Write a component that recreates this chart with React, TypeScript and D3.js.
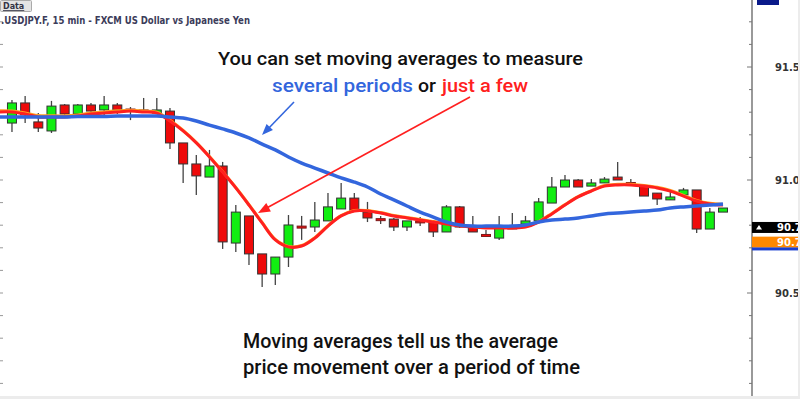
import React from 'react';
import * as d3 from 'd3';

// Candles (USDJPY 15 min), oldest to newest
const candleOpen = [91.252, 91.341, 91.257, 91.217, 91.332, 91.292, 91.332, 91.310, 91.332, 91.314,
  91.305, 91.296, 91.305, 91.164, 91.071, 91.013, 91.062, 90.721, 90.841, 90.673,
  90.584, 90.659, 90.796, 90.792, 90.819, 90.872, 90.920, 90.858, 90.829, 90.827,
  90.792, 90.819, 90.814, 90.770, 90.881, 90.796, 90.759, 90.743, 90.790, 90.805,
  90.819, 90.898, 90.969, 91.000, 90.973, 90.987, 91.013, 90.989, 90.973, 90.942,
  90.912, 90.934, 90.956, 90.783, 90.858];
const candleHigh = [91.354, 91.372, 91.296, 91.350, 91.336, 91.336, 91.341, 91.372, 91.341, 91.323,
  91.363, 91.363, 91.319, 91.164, 91.111, 91.133, 91.080, 90.889, 90.841, 90.673,
  90.659, 90.845, 90.841, 90.903, 90.942, 90.987, 90.942, 90.903, 90.841, 90.832,
  90.819, 90.836, 90.819, 90.889, 90.885, 90.841, 90.779, 90.841, 90.854, 90.841,
  90.920, 91.013, 91.022, 91.004, 91.004, 91.013, 91.080, 91.004, 90.978, 90.942,
  90.947, 90.965, 90.956, 90.876, 90.876];
const candleLow = [91.212, 91.252, 91.212, 91.208, 91.283, 91.292, 91.301, 91.288, 91.292, 91.265,
  91.301, 91.292, 91.137, 90.987, 90.934, 91.013, 90.695, 90.681, 90.624, 90.527,
  90.535, 90.615, 90.735, 90.770, 90.819, 90.872, 90.863, 90.814, 90.805, 90.774,
  90.774, 90.796, 90.748, 90.770, 90.788, 90.770, 90.748, 90.735, 90.783, 90.805,
  90.819, 90.898, 90.969, 90.969, 90.973, 90.987, 91.000, 90.978, 90.929, 90.889,
  90.912, 90.934, 90.765, 90.783, 90.858];
const candleClose = [91.341, 91.288, 91.230, 91.327, 91.292, 91.332, 91.305, 91.332, 91.310, 91.310,
  91.310, 91.310, 91.164, 91.071, 91.018, 91.062, 90.726, 90.858, 90.673, 90.584,
  90.659, 90.801, 90.788, 90.823, 90.881, 90.920, 90.863, 90.832, 90.827, 90.792,
  90.819, 90.817, 90.770, 90.881, 90.792, 90.770, 90.755, 90.788, 90.792, 90.819,
  90.903, 90.969, 91.000, 90.969, 90.987, 91.004, 91.000, 90.987, 90.929, 90.916,
  90.925, 90.956, 90.783, 90.858, 90.876];

// Moving averages; first value sits one bar before the first candle (left edge)
const maSlow = [91.279, 91.279, 91.279, 91.279, 91.279, 91.279, 91.281, 91.281, 91.281, 91.283,
  91.283, 91.283, 91.283, 91.279, 91.274, 91.261, 91.243, 91.226, 91.208, 91.186,
  91.159, 91.133, 91.102, 91.075, 91.053, 91.031, 91.009, 90.991, 90.969, 90.938,
  90.912, 90.885, 90.858, 90.836, 90.814, 90.801, 90.796, 90.796, 90.796, 90.796,
  90.801, 90.814, 90.823, 90.827, 90.832, 90.841, 90.850, 90.854, 90.858, 90.863,
  90.867, 90.876, 90.881, 90.885, 90.889, 90.894];
const maFast = [91.301, 91.301, 91.292, 91.279, 91.279, 91.279, 91.283, 91.292, 91.296, 91.301,
  91.305, 91.301, 91.296, 91.261, 91.217, 91.164, 91.102, 91.035, 90.965, 90.889,
  90.810, 90.735, 90.704, 90.708, 90.743, 90.796, 90.841, 90.863, 90.863, 90.854,
  90.841, 90.832, 90.823, 90.814, 90.805, 90.796, 90.792, 90.788, 90.788, 90.788,
  90.792, 90.814, 90.850, 90.889, 90.925, 90.951, 90.973, 90.978, 90.978, 90.973,
  90.965, 90.951, 90.929, 90.907, 90.894, 90.889];
const maMid = [91.306, 91.305, 91.297, 91.285, 91.284, 91.284, 91.288, 91.296, 91.301, 91.306,
  91.309, 91.305, 91.300, 91.264, 91.219, 91.166, 91.104, 91.037, 90.967, 90.891,
  90.812, 90.737, 90.706, 90.710, 90.745, 90.798, 90.843, 90.865, 90.865, 90.856,
  90.843, 90.834, 90.825, 90.816, 90.807, 90.798, 90.794, 90.790, 90.790, 90.790,
  90.794, 90.816, 90.852, 90.891, 90.927, 90.953, 90.976, 90.981, 90.981, 90.976,
  90.968, 90.954, 90.932, 90.910, 90.897, 90.892];

const axisTickValues = [90.1, 90.2, 90.3, 90.4, 90.5, 90.6, 90.7, 90.8, 90.9, 91.0,
  91.1, 91.2, 91.3, 91.4, 91.5, 91.6, 91.7];
const axisLabelValues = [91.5, 91.0, 90.5];
const axisLabels = ['91.50', '91.00', '90.50'];
const tagValues = [90.79, 90.725, 90.695];
const tagLabels = ['90.79', '90.72'];

const titleText = '.USDJPY.F, 15 min - FXCM US Dollar vs Japanese Yen';
const headLine1 = 'You can set moving averages to measure';
const headLine2a = 'several periods';
const headLine2b = 'or';
const headLine2c = 'just a few';
const footLine1 = 'Moving averages tell us the average';
const footLine2 = 'price movement over a period of time';

const W = 800;
const H = 399;
const AXIS_X = 752;

export default function App() {
  const x = d3.scaleLinear().domain([-1, 54]).range([-1.2, 723]);
  const y = d3.scaleLinear().domain([90.5, 91.5]).range([293, 67]);
  const bodyW = 9;

  const lineGen = d3
    .line<number>()
    .x((_, i) => x(i - 1))
    .y((d) => y(d))
    .curve(d3.curveCatmullRom.alpha(0.5));

  const blue = '#3366dd';
  const red = '#ff2020';
  const font = 'Roboto, "Noto Sans", sans-serif';

  const arrowHead = (tx: number, ty: number, fx: number, fy: number, size: number, color: string) => {
    const ang = Math.atan2(ty - fy, tx - fx);
    const a1 = ang + Math.PI - 0.38;
    const a2 = ang + Math.PI + 0.38;
    const p = [
      [tx, ty],
      [tx + size * Math.cos(a1), ty + size * Math.sin(a1)],
      [tx + size * Math.cos(a2), ty + size * Math.sin(a2)],
    ];
    return <polygon points={p.map((q) => q.join(',')).join(' ')} fill={color} />;
  };

  return (
    <svg
      width={W}
      height={H}
      style={{ position: 'absolute', left: 0, top: 0, background: '#fff' }}
      xmlns="http://www.w3.org/2000/svg"
    >
      <rect x={0} y={0} width={W} height={H} fill="#fff" />
      {/* left edge ticks */}
      {axisTickValues.map((v) => (
        <line key={'l' + v} x1={0} x2={3} y1={y(v)} y2={y(v)} stroke="#999" strokeWidth={1} />
      ))}

      {/* candles */}
      {candleOpen.map((o, i) => {
        const c = candleClose[i];
        const up = c >= o;
        const top = y(Math.max(o, c));
        const bot = y(Math.min(o, c));
        const h = Math.max(2, bot - top);
        const cx = x(i);
        return (
          <g key={'c' + i}>
            <line x1={cx} x2={cx} y1={y(candleHigh[i])} y2={y(candleLow[i])} stroke="#444" strokeWidth={1.3} />
            <rect
              x={cx - bodyW / 2}
              y={top}
              width={bodyW}
              height={h}
              fill={up ? '#11ee11' : '#ee0a0a'}
              stroke={h <= 2 ? '#7a1a1a' : '#333'}
              strokeWidth={1}
            />
          </g>
        );
      })}

      {/* moving averages */}
      <path d={lineGen(maMid) || ''} fill="none" stroke="#ffa020" strokeWidth={3} />
      <path d={lineGen(maFast) || ''} fill="none" stroke={red} strokeWidth={3} />
      <path d={lineGen(maSlow) || ''} fill="none" stroke={blue} strokeWidth={3.5} />

      {/* right axis */}
      <line x1={AXIS_X} x2={AXIS_X} y1={0} y2={396} stroke="#777" strokeWidth={1.5} />
      {axisTickValues.map((v) => {
        const major = axisLabelValues.some((m) => Math.abs(m - v) < 1e-6);
        return (
          <line key={'t' + v} x1={AXIS_X - (major ? 5 : 3)} x2={AXIS_X} y1={y(v)} y2={y(v)} stroke="#777" strokeWidth={1} />
        );
      })}
      {axisLabelValues.map((v, i) => (
        <text key={'a' + v} x={775} y={y(v) + 3.5} fontFamily="'DejaVu Sans', sans-serif" fontWeight="bold" fontSize={10} fill="#333">
          {axisLabels[i]}
        </text>
      ))}
      {/* price tags */}
      <rect x={AXIS_X} y={y(tagValues[0]) - 5.5} width={W - AXIS_X} height={11} fill="#000" />
      <polygon
        points={`${756},${y(tagValues[0]) + 2} ${759},${y(tagValues[0]) - 2.5} ${762},${y(tagValues[0]) + 2}`}
        fill="#fff"
      />
      <text x={777} y={y(tagValues[0]) + 3.5} fontFamily="'DejaVu Sans', sans-serif" fontWeight="bold" fontSize={10} fill="#fff">
        {tagLabels[0]}
      </text>
      <rect x={AXIS_X} y={y(tagValues[1]) - 5.5} width={W - AXIS_X} height={11} fill="#ff8800" />
      <text x={777} y={y(tagValues[1]) + 3.5} fontFamily="'DejaVu Sans', sans-serif" fontWeight="bold" fontSize={10} fill="#fff">
        {tagLabels[1]}
      </text>
      <rect x={AXIS_X} y={y(tagValues[2]) - 1.5} width={W - AXIS_X} height={3} fill="#1a3fd0" />
      <rect x={757} y={0} width={22} height={5} fill="#0a1a8a" />

      {/* title */}
      <rect x={0.5} y={0.5} width={31} height={11} fill="#e4e4e4" stroke="#aaa" strokeWidth={1} rx={1} />
      <text x={3} y={9} fontFamily="'DejaVu Sans', sans-serif" fontWeight="bold" fontSize={8} fill="#334" textDecoration="underline">
        Data
      </text>
      <text x={1} y={24} fontFamily="'DejaVu Sans', sans-serif" fontWeight="bold" fontSize={11} fill="#3c3c5a" textLength={249} lengthAdjust="spacingAndGlyphs">
        {titleText}
      </text>

      {/* arrows */}
      <line x1={294} y1={102} x2={266} y2={131} stroke={blue} strokeWidth={1.6} />
      {arrowHead(262, 135, 294, 102, 12, blue)}
      <line x1={470} y1={97} x2={263} y2={210} stroke={red} strokeWidth={1.6} />
      {arrowHead(258, 213, 470, 97, 13, red)}

      {/* annotations */}
      <text x={218} y={65} fontFamily={font} fontWeight={500} fontSize={19} fill="#111" textLength={365} lengthAdjust="spacingAndGlyphs">
        {headLine1}
      </text>
      <text x={272} y={92} fontFamily={font} fontWeight={500} fontSize={19} fill={blue} textLength={141} lengthAdjust="spacingAndGlyphs">
        {headLine2a}
      </text>
      <text x={418} y={92} fontFamily={font} fontWeight={500} fontSize={19} fill="#111" textLength={18} lengthAdjust="spacingAndGlyphs">
        {headLine2b}
      </text>
      <text x={442} y={92} fontFamily={font} fontWeight={500} fontSize={19} fill={red} textLength={86} lengthAdjust="spacingAndGlyphs">
        {headLine2c}
      </text>
      <text x={243} y={348} fontFamily={font} fontWeight={500} fontSize={20} fill="#111" textLength={315} lengthAdjust="spacingAndGlyphs">
        {footLine1}
      </text>
      <text x={243} y={374} fontFamily={font} fontWeight={500} fontSize={20} fill="#111" textLength={337} lengthAdjust="spacingAndGlyphs">
        {footLine2}
      </text>

      {/* frame */}
      <rect x={0} y={396} width={W} height={3} fill="#ececec" />
      <rect x={798} y={0} width={2} height={H} fill="#ececec" />
    </svg>
  );
}
